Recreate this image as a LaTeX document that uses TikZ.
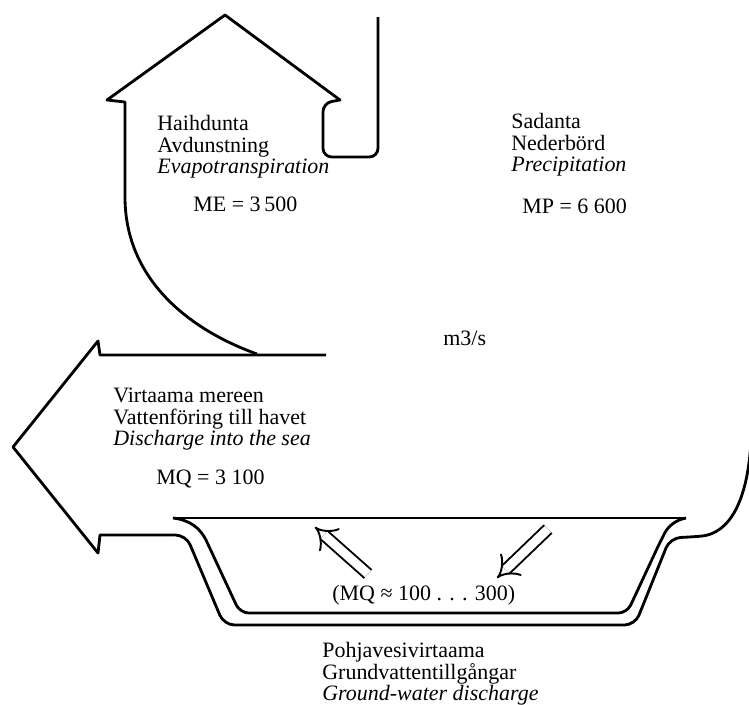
\documentclass[tikz,border=0pt]{standalone}
\usepackage{fontspec}
\setmainfont{Liberation Serif}
\usetikzlibrary{arrows.meta}

\tikzset{
  outline/.style={line width=1.6pt, line join=round},
  txt/.style={inner sep=0pt, font=\fontsize{12.5}{12.2}\selectfont, align=left, anchor=north west},
  val/.style={inner sep=0pt, font=\fontsize{12.5}{12.2}\selectfont, anchor=base west},
  flowarrow/.style={double, double distance=5pt, line width=1.1pt, -{Implies}}
}

\begin{document}
\begin{tikzpicture}[x=0.02cm, y=-0.02cm]
    \useasboundingbox (0,0) rectangle (749,704);

    % evaporation arrow, fed by precipitation
    \draw[outline] (378,17) [rounded corners=5pt] -- (378,157) -- (323,157) -- (323,103)
        [sharp corners] -- (340,100) -- (225,15) -- (107,100) -- (125,102) -- (125,197)
        .. controls (125,280) and (190,330) .. (257,354);

    % discharge arrow and outer wall of the basin
    \draw[outline] (326,355) -- (100,355) -- (98,341) -- (13,447) -- (98,553) -- (100,535)
        [rounded corners=6pt] -- (186,535) -- (224,625) -- (635,625) -- (670,538) -- (690,537)
        [sharp corners] .. controls (730,534) and (748,500) .. (751,440);

    % inner wall of the basin
    \draw[outline] (173,518) -- (686,518);
    \draw[outline] (173,518) .. controls (190,520) and (200,528) .. (206,540)
        [rounded corners=5pt] -- (240,613) -- (627,613) -- (661,540)
        [sharp corners] .. controls (668,527) and (675,520) .. (686,518);

    \draw[flowarrow] (368,574) -- (315,527);
    \draw[flowarrow] (548,529) -- (497,578);

    \node[txt] (evap) at (157,115) {Haihdunta\\Avdunstning\\\textit{Evapotranspiration}};
    \node[val] (evapval) at (193,211) {ME = 3\,500};
    \node[txt] (precip) at (511,113) {Sadanta\\Nederbörd\\\textit{Precipitation}};
    \node[val] (precipval) at (522,213) {MP = 6 600};
    \node[val] (unit) at (443,345) {m3/s};
    \node[txt] (disch) at (113,388) {Virtaama mereen\\Vattenföring till havet\\\textit{Discharge into the sea}};
    \node[val] (dischval) at (156,484) {MQ = 3 100};
    \node[val] (groundval) at (332,600) {(MQ ≈ 100 . . . 300)};
    \node[txt] (ground) at (322,642) {Pohjavesivirtaama\\Grundvattentillgångar\\\textit{Ground-water discharge}};
\end{tikzpicture}
\end{document}
